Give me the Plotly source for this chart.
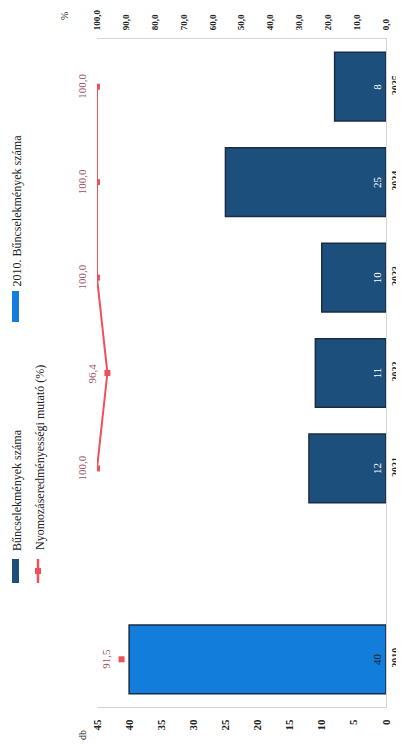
import plotly.graph_objects as go

# ---- data ----
categories = ["2010", " ", "2021", "2022", "2023", "2024", "2025"]
crimes = [None, None, 12, 11, 10, 25, 8]
crimes_2010 = [40, None, None, None, None, None, None]
clearance_rate = [91.5, None, 100.0, 96.4, 100.0, 100.0, 100.0]
db_ticks = [0, 5, 10, 15, 20, 25, 30, 35, 40, 45]
pct_ticks = [0, 10, 20, 30, 40, 50, 60, 70, 80, 90, 100]
name_crimes = "Bűncselekmények száma"
name_crimes_2010 = "2010. Bűncselekmények száma"
name_rate = "Nyomozáseredményességi mutató (%)"

# ---- styling ----
OX, OY = 8, 8              # page body margin offset
W, H = 404 - OX, 744 - OY
# target plot area in screen pixels: x 97..386, y 39..707
L, R, T, B = 97 - OX, W - (386 - OX), 39 - OY, H - (707 - OY)
PW, PH = W - L - R, H - T - B
NAVY = "#1d4f7c"
NAVY_EDGE = "#1a2c44"
BLUE = "#127ddb"
RED = "#f0505a"
LABEL = "#a0506a"
SERIF = "Liberation Serif"


def px(x):
    """screen pixel x -> paper coordinate"""
    return (x - OX - L) / PW


def py(y):
    """screen pixel y -> paper coordinate"""
    return (H - B - (y - OY)) / PH


fig = go.Figure()
fig.add_trace(go.Bar(
    y=categories, x=crimes, orientation="h", name=name_crimes,
    marker=dict(color=NAVY, line=dict(color=NAVY_EDGE, width=1.5)),
    width=0.72, texttemplate="%{x}", textposition="inside",
    insidetextanchor="start", textangle=-90,
    textfont=dict(color="white", size=11, family=SERIF),
    xaxis="x", yaxis="y", showlegend=False))
fig.add_trace(go.Bar(
    y=categories, x=crimes_2010, orientation="h", name=name_crimes_2010,
    marker=dict(color=BLUE, line=dict(color=NAVY_EDGE, width=1.5)),
    width=0.72, texttemplate="%{x}", textposition="inside",
    insidetextanchor="start", textangle=-90,
    textfont=dict(color="#1a1a1a", size=11, family=SERIF),
    xaxis="x", yaxis="y", showlegend=False))
fig.add_trace(go.Scatter(
    y=categories, x=clearance_rate, name=name_rate, mode="lines+markers",
    line=dict(color=RED, width=2), connectgaps=False,
    marker=dict(symbol="square", size=6, color=RED),
    xaxis="x2", yaxis="y", showlegend=False))

annotations = []
for i, v in enumerate(clearance_rate):
    if v is None:
        continue
    annotations.append(dict(
        x=v, y=i, xref="x2", yref="y", showarrow=False,
        text=f"{v:.1f}".replace(".", ","), textangle=-90, xshift=-15,
        font=dict(color=LABEL, size=11, family=SERIF)))

# axis unit labels
annotations.append(dict(x=px(82), y=py(735), xref="paper", yref="paper",
                        text="db", textangle=-90, showarrow=False,
                        xanchor="center", yanchor="middle",
                        font=dict(size=10, family=SERIF, color="#222")))
annotations.append(dict(x=px(65), y=py(16), xref="paper", yref="paper",
                        text="%", textangle=-90, showarrow=False,
                        xanchor="center", yanchor="middle",
                        font=dict(size=10, family=SERIF, color="#222")))

# manual (rotated) legend: (text, centre x, bottom y, top y) in screen px
legend_items = [
    (name_crimes, 17, 556, 424),
    (name_rate, 40, 556, 360),
    (name_crimes_2010, 16, 288, 133),
]
for txt, lx, yb, yt in legend_items:
    annotations.append(dict(x=px(lx), y=py((yb + yt) / 2), xref="paper",
                            yref="paper", text=txt, textangle=-90,
                            showarrow=False, xanchor="center",
                            yanchor="middle",
                            font=dict(size=12, family=SERIF, color="#222")))

shapes = [
    dict(type="rect", xref="paper", yref="paper", x0=px(12), x1=px(19),
         y0=py(583), y1=py(559), fillcolor=NAVY, line=dict(width=0)),
    dict(type="rect", xref="paper", yref="paper", x0=px(12), x1=px(19),
         y0=py(322), y1=py(291), fillcolor=BLUE, line=dict(width=0)),
    dict(type="line", xref="paper", yref="paper", x0=px(38), x1=px(38),
         y0=py(583), y1=py(559), line=dict(color=RED, width=2.5)),
    dict(type="rect", xref="paper", yref="paper", x0=px(35), x1=px(41),
         y0=py(574), y1=py(568), fillcolor=RED, line=dict(width=0)),
]

tickfont = dict(size=11, family=SERIF, color="#222", weight="bold")
fig.update_layout(
    width=W, height=H, margin=dict(l=L, r=R, t=T, b=B, autoexpand=False),
    paper_bgcolor="white", plot_bgcolor="white",
    barmode="overlay", separators=", ", showlegend=False,
    xaxis=dict(range=[45, 0], tickvals=db_ticks, tickangle=-90, side="bottom",
               showgrid=False, zeroline=False, showline=True, automargin=False,
               linecolor="#d4d4d4", linewidth=1, ticks="outside", ticklen=7,
               tickcolor="rgba(0,0,0,0)", tickfont=tickfont,
               ticklabeloverflow="allow"),
    xaxis2=dict(range=[100, 0], tickvals=pct_ticks, tickformat=".1f",
                tickangle=-90, side="top", overlaying="x", showgrid=False,
                zeroline=False, showline=True, linecolor="#d4d4d4",
                automargin=False, ticklabeloverflow="allow",
                ticks="outside", ticklen=6, tickcolor="rgba(0,0,0,0)",
                tickfont=dict(size=9, family=SERIF, color="#222", weight="bold")),
    yaxis=dict(type="category", categoryorder="array", categoryarray=categories,
               range=[-0.5, len(categories) - 0.5], automargin=False,
               side="right", tickangle=-90, showgrid=False, showline=True,
               linecolor="#d4d4d4", ticks="", ticklen=0,
               ticklabeloverflow="allow",
               tickfont=dict(size=10, family=SERIF, color="#222",
                             weight="bold")),
    annotations=annotations, shapes=shapes,
)

fig.write_html("out.html")
